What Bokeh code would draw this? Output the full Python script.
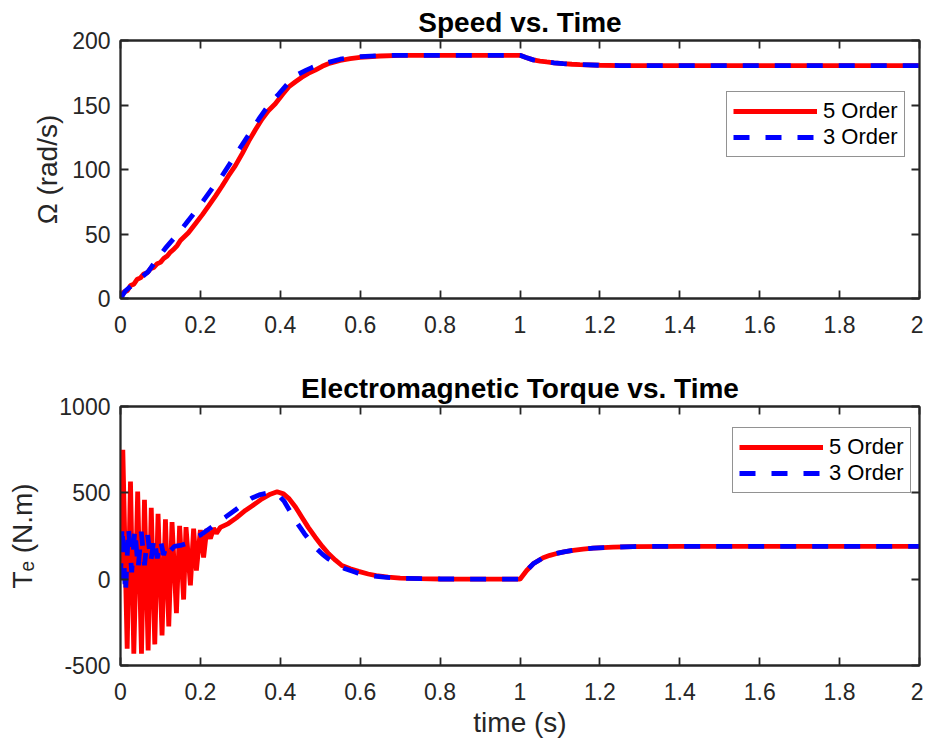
from bokeh.plotting import figure
from bokeh.layouts import column
from bokeh.models import (Range1d, LinearAxis, FixedTicker, Legend, LegendItem,
                          CustomJSTickFormatter)
from bokeh.embed import file_html
from bokeh.resources import INLINE

# ---------------- data ----------------
x_ticks = [0, 0.2, 0.4, 0.6, 0.8, 1, 1.2, 1.4, 1.6, 1.8, 2]
x_tick_labels = ["0", "0.2", "0.4", "0.6", "0.8", "1", "1.2", "1.4", "1.6", "1.8", "2"]
speed_ticks = [0, 50, 100, 150, 200]
speed_tick_labels = ["0", "50", "100", "150", "200"]
torque_ticks = [-500, 0, 500, 1000]
torque_tick_labels = ["-500", "0", "500", "1000"]

series_names = ["5 Order", "3 Order"]

# Speed, 5th order model
t_speed5 = [0, 0.008, 0.017, 0.025, 0.033, 0.042, 0.05, 0.058, 0.067, 0.075, 0.083,
            0.092, 0.1, 0.108, 0.117, 0.125, 0.133, 0.142, 0.15, 0.17, 0.1875, 0.205,
            0.221, 0.238, 0.254, 0.27, 0.2875, 0.305, 0.321, 0.338, 0.354, 0.37,
            0.3875, 0.405, 0.421, 0.438, 0.454, 0.47, 0.4875, 0.505, 0.52, 0.55, 0.575,
            0.6, 0.65, 0.7, 0.8, 0.9, 1.0, 1.015, 1.033, 1.05, 1.067, 1.085, 1.108,
            1.13, 1.15, 1.2, 1.25, 1.3, 1.5, 2.0]
speed5 = [0, 5, 6, 10, 11, 15, 16, 19, 20, 23, 24, 27, 28, 31, 33, 36, 38, 41, 45, 51,
          58, 65, 72, 79.5, 87, 95, 103, 112.5, 122, 131, 139, 145.5, 151, 158, 164,
          168, 171.5, 174.5, 177, 180, 182, 184.5, 186, 187, 188, 188.5, 188.5, 188.5,
          188.5, 186.8, 185, 184.1, 183.4, 182.7, 182, 181.6, 181.3, 180.8, 180.6,
          180.5, 180.5, 180.5]

# Speed, 3rd order model
t_speed3 = [0, 0.0125, 0.04, 0.07, 0.09, 0.1125, 0.1375, 0.1625, 0.185, 0.208, 0.23,
            0.254, 0.277, 0.3, 0.323, 0.346, 0.371, 0.396, 0.42, 0.446, 0.465, 0.479,
            0.5, 0.52, 0.55, 0.6, 0.65, 0.7, 1.0, 1.015, 1.033, 1.05, 1.067, 1.085,
            1.108, 1.13, 1.15, 1.2, 1.25, 1.3, 2.0]
speed3 = [0, 6, 13, 21, 30, 39, 48, 57.5, 66.5, 76, 85.5, 95, 106, 117, 128, 139, 150,
          158.5, 167, 174, 177, 179, 181.5, 183, 185.5, 187.5, 188.3, 188.5, 188.5,
          186.8, 185, 184.1, 183.4, 182.7, 182, 181.6, 181.3, 180.8, 180.6, 180.5,
          180.5]

# Electromagnetic torque, 5th order model
t_torque5 = [0, 0.0058, 0.0167, 0.025, 0.0333, 0.043, 0.0525, 0.06, 0.0692, 0.077,
             0.0858, 0.094, 0.104, 0.1125, 0.1208, 0.129, 0.14, 0.148, 0.158, 0.164,
             0.175, 0.183, 0.19, 0.2, 0.208, 0.216, 0.225, 0.233, 0.24, 0.25, 0.27,
             0.29, 0.3125, 0.33, 0.354, 0.375, 0.392, 0.408, 0.421, 0.438, 0.454, 0.47,
             0.4875, 0.505, 0.521, 0.538, 0.554, 0.575, 0.596, 0.62, 0.64, 0.67, 0.7,
             0.75, 0.8, 0.9, 1.0, 1.0167, 1.033, 1.058, 1.075, 1.092, 1.11, 1.133,
             1.158, 1.183, 1.233, 1.283, 1.4, 2.0]
torque5 = [0, 749, -403, 566, -432, 508, -432, 460, -413, 413, -378, 379, -326, 347,
           -274, 330, -197, 309, -118, 301, -36, 292, 50, 285, 125, 290, 235, 295, 265,
           300, 322, 355, 398, 425, 465, 492, 506, 494, 468, 418, 359, 300, 243, 190,
           147, 110, 79, 60, 45, 30, 21, 12, 6, 3, 1, 0, 0, 50, 89, 124, 138, 149,
           158, 167, 174, 180, 185, 189, 190, 190]

# Electromagnetic torque, 3rd order model
t_torque3 = [0, 0.004, 0.0125, 0.02, 0.028, 0.036, 0.044, 0.052, 0.06, 0.068, 0.076,
             0.084, 0.092, 0.1, 0.108, 0.116, 0.125, 0.135, 0.15, 0.17, 0.19, 0.2,
             0.23, 0.2625, 0.29, 0.31, 0.329, 0.35, 0.367, 0.38, 0.396, 0.41, 0.4375,
             0.46, 0.4875, 0.505, 0.52, 0.54, 0.5625, 0.59, 0.62, 0.66, 0.7, 0.8, 1.0,
             1.0167, 1.033, 1.058, 1.075, 1.092, 1.11, 1.133, 1.158, 1.183, 1.233,
             1.283, 1.4, 2.0]
torque3 = [0, 310, -85, 300, 40, 290, 60, 275, 80, 255, 100, 240, 120, 225, 140, 205,
           165, 190, 195, 210, 245, 255, 305, 359, 405, 440, 470, 490, 498, 496, 485,
           450, 340, 265, 185, 145, 118, 88, 60, 38, 21, 12, 5, 1, 0, 50, 89, 124, 138,
           149, 158, 167, 174, 180, 185, 189, 190, 190]

# ---------------- styling ----------------
FONT = "Liberation Sans"
AXC = "#262626"
RED = "#ff0000"
BLUE = "#0000ff"
LW = 4.8


def style_axis(ax, ticks, labels, show=True, standoff=10, label_standoff=6):
    ax.ticker = FixedTicker(ticks=ticks)
    if show:
        ax.major_label_overrides = {t: l for t, l in zip(ticks, labels)}
        ax.major_label_text_font_size = "23px"
    else:
        ax.formatter = CustomJSTickFormatter(code="return ''")
        ax.major_label_text_font_size = "0px"
    ax.major_tick_in = 8
    ax.major_tick_out = 0
    ax.minor_tick_in = 0
    ax.minor_tick_out = 0
    ax.axis_line_color = AXC
    ax.axis_line_width = 1.8
    ax.major_tick_line_color = AXC
    ax.major_tick_line_width = 1.8
    ax.major_label_text_font = FONT
    ax.major_label_text_color = AXC
    ax.major_label_standoff = standoff if show else 0
    ax.axis_label_text_font = FONT
    ax.axis_label_text_font_size = "28px"
    ax.axis_label_text_font_style = "normal"
    ax.axis_label_text_color = AXC
    ax.axis_label_standoff = label_standoff


def make_panel(title, ylabel, yr, yticks, ylabels, top, frame_h, bottom,
               xlabel=None, ylabel_standoff=6):
    p = figure(frame_width=799, frame_height=frame_h,
               x_range=Range1d(0, 2), y_range=Range1d(*yr),
               output_backend="svg", toolbar_location=None,
               min_border_left=120, min_border_right=4,
               min_border_top=top, min_border_bottom=bottom)
    p.background_fill_color = "white"
    p.border_fill_color = "white"
    p.outline_line_color = AXC
    p.outline_line_width = 1.8
    p.xgrid.visible = False
    p.ygrid.visible = False

    p.title.text = title
    p.title.align = "center"
    p.title.text_font = FONT
    p.title.text_font_size = "28px"
    p.title.text_font_style = "bold"
    p.title.text_color = "black"
    p.title.standoff = 6

    xa = p.xaxis[0]
    ya = p.yaxis[0]
    style_axis(xa, x_ticks, x_tick_labels, True, standoff=17, label_standoff=4)
    style_axis(ya, yticks, ylabels, True, standoff=10, label_standoff=ylabel_standoff)
    if xlabel:
        xa.axis_label = xlabel
    ya.axis_label = ylabel

    top_ax = LinearAxis()
    style_axis(top_ax, x_ticks, x_tick_labels, False)
    p.add_layout(top_ax, "above")
    right_ax = LinearAxis()
    style_axis(right_ax, yticks, ylabels, False)
    p.add_layout(right_ax, "right")
    return p


def add_legend(p, r5, r3, loc):
    leg = Legend(items=[LegendItem(label=series_names[0], renderers=[r5]),
                        LegendItem(label=series_names[1], renderers=[r3])],
                 location=loc)
    leg.label_text_font = FONT
    leg.label_text_font_size = "22px"
    leg.label_text_color = "black"
    leg.glyph_width = 84
    leg.glyph_height = 24
    leg.label_height = 24
    leg.label_standoff = 6
    leg.spacing = 0
    leg.padding = 6
    leg.margin = 0
    leg.border_line_color = AXC
    leg.border_line_width = 1.5
    leg.background_fill_color = "white"
    leg.background_fill_alpha = 1.0
    p.add_layout(leg, "center")


# Top panel: speed
p1 = make_panel("Speed vs. Time", "\u03a9 (rad/s)", (0, 200), speed_ticks,
                speed_tick_labels, top=40, frame_h=258, bottom=48, ylabel_standoff=6)
r5 = p1.line(t_speed5, speed5, line_color=RED, line_width=LW)
r3 = p1.line(t_speed3, speed3, line_color=BLUE, line_width=LW, line_dash="16 16")
add_legend(p1, r5, r3, (606, 141))

# Bottom panel: torque
p2 = make_panel("Electromagnetic Torque vs. Time", "T\u2091 (N.m)", (-500, 1000),
                torque_ticks, torque_tick_labels, top=60, frame_h=259, bottom=78,
                xlabel="time (s)", ylabel_standoff=18)
q5 = p2.line(t_torque5, torque5, line_color=RED, line_width=LW)
q3 = p2.line(t_torque3, torque3, line_color=BLUE, line_width=LW, line_dash="16 16")
add_legend(p2, q5, q3, (612, 172))

layout = column(p1, p2, spacing=0)
open("out.html", "w").write(file_html(layout, INLINE))
